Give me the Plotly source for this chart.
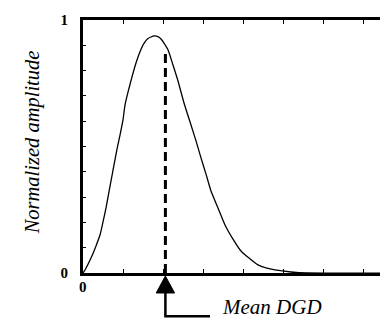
import plotly.graph_objects as go

# Curve (x in tick units, y normalized amplitude)
dgd_x = [0.0, 0.05, 0.2, 0.325, 0.425, 0.5, 0.575, 0.70, 0.775, 0.85, 0.925, 1.0, 1.05,
         1.125, 1.225, 1.325, 1.425, 1.525, 1.625, 1.775, 1.875, 1.95, 2.025, 2.125,
         2.25, 2.375, 2.525, 2.7, 2.825, 2.95, 3.075, 3.2, 3.375, 3.55, 3.75, 3.95,
         4.15, 4.375, 4.575, 4.8, 5.2, 5.6, 7.9]
amplitude = [0.0, 0.012, 0.059, 0.107, 0.150, 0.202, 0.257, 0.364, 0.427, 0.490, 0.545, 0.605, 0.664,
             0.715, 0.775, 0.830, 0.875, 0.908, 0.927, 0.937, 0.934, 0.925, 0.909, 0.882,
             0.822, 0.759, 0.672, 0.585, 0.522, 0.455, 0.391, 0.324, 0.257, 0.190, 0.134, 0.087,
             0.059, 0.032, 0.020, 0.012, 0.004, 0.0, 0.0]
mean_dgd = 2.06
mean_amp = 0.88

y_ticks = [i / 10 for i in range(11)]
y_ticktext = ["0"] + [""] * 9 + ["1"]
x_ticks = list(range(0, 9))
x_ticktext = ["0"] + [""] * 8

serif = "Liberation Serif"

fig = go.Figure()
fig.add_trace(go.Scatter(x=dgd_x, y=amplitude, mode="lines",
                         line=dict(color="black", width=1.3, shape="spline", smoothing=0.5),
                         hoverinfo="skip"))
fig.add_trace(go.Scatter(x=[mean_dgd, mean_dgd], y=[0, mean_amp], mode="lines",
                         line=dict(color="black", width=3, dash="9px,5px"), hoverinfo="skip"))

# arrow below axis
tri_w = 0.23
y_base = -0.079
y_tip = -0.012
y_elbow = -0.171
x_end = 3.175
fig.add_shape(type="path", xref="x", yref="paper",
              path=f"M {mean_dgd - tri_w},{y_base} L {mean_dgd + tri_w},{y_base} L {mean_dgd},{y_tip} Z",
              fillcolor="black", line=dict(color="black", width=1))
fig.add_shape(type="path", xref="x", yref="paper",
              path=f"M {mean_dgd},{y_base} L {mean_dgd},{y_elbow} L {x_end},{y_elbow}",
              line=dict(color="black", width=2.5))
fig.add_annotation(x=3.42, y=-0.135, xref="x", yref="paper", text="<i>Mean DGD</i>",
                   showarrow=False, xanchor="left", yanchor="middle",
                   font=dict(family=serif, size=21, color="black"))
fig.add_annotation(x=-0.16, y=0.516, xref="paper", yref="paper", text="<i>Normalized amplitude</i>",
                   showarrow=False, textangle=-90, xanchor="center", yanchor="middle",
                   font=dict(family=serif, size=20.5, color="black"))
fig.add_annotation(x=0.0, y=-0.055, xref="x", yref="paper", text="<b>0</b>",
                   showarrow=False, xanchor="center", yanchor="middle",
                   font=dict(size=15, color="black"))

fig.update_layout(
    width=388, height=319,
    margin=dict(l=75, r=0, t=12, b=54),
    paper_bgcolor="white", plot_bgcolor="white",
    font=dict(family=serif, color="black"),
    showlegend=False,
    xaxis=dict(range=[0, 7.825], tickvals=x_ticks, ticktext=x_ticktext, showticklabels=False,
               ticks="inside", ticklen=4, tickwidth=1, tickcolor="black",
               showline=True, linecolor="black", linewidth=3, mirror="ticks",
               showgrid=False, zeroline=False, fixedrange=True),
    yaxis=dict(range=[0, 1], tickvals=y_ticks, ticktext=y_ticktext,
               ticks="inside", ticklen=3, tickwidth=1, tickcolor="black",
               tickfont=dict(size=15, color="black", weight="bold"),
               ticklabelstandoff=9,
               showline=True, linecolor="black", linewidth=3,
               showgrid=False, zeroline=False, fixedrange=True),
)

fig.write_html("out.html")
